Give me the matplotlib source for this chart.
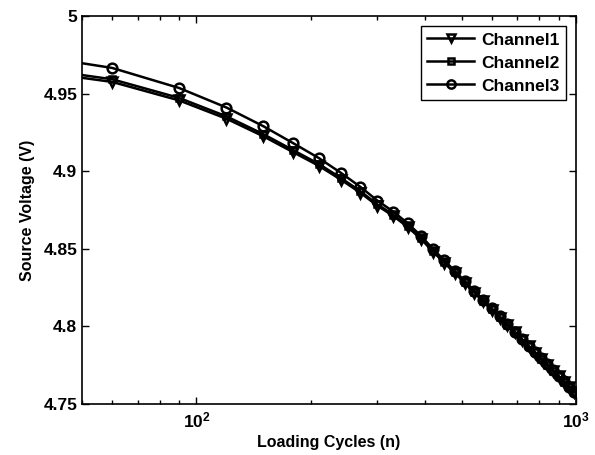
import matplotlib
matplotlib.use("Agg")
import matplotlib.pyplot as plt
from matplotlib.ticker import FixedLocator, LogLocator, NullFormatter

plt.rcParams["font.family"] = ["Liberation Sans", "DejaVu Sans"]
plt.rcParams["font.weight"] = "bold"
plt.rcParams["mathtext.fontset"] = "custom"
plt.rcParams["mathtext.bf"] = "Liberation Sans:bold"
plt.rcParams["mathtext.rm"] = "Liberation Sans:bold"

# loading cycles (n)
cycles = [30, 60, 90, 120, 150, 180, 210, 240, 270, 300, 330, 360, 390, 420,
          450, 480, 510, 540, 570, 600, 630, 660, 690, 720, 750, 780, 810,
          840, 870, 900, 930, 960, 990]

# source voltage
channel1 = [4.9675, 4.9575, 4.9456, 4.9338, 4.9225, 4.9122, 4.9035, 4.8946,
            4.8862, 4.8777, 4.8712, 4.8641, 4.8565, 4.8482, 4.8410, 4.8343,
            4.8279, 4.8218, 4.8161, 4.8107, 4.8056, 4.8007, 4.7961, 4.7915,
            4.7872, 4.7831, 4.7791, 4.7752, 4.7714, 4.7678, 4.7643, 4.7609,
            4.7577]
channel2 = [4.9695, 4.9592, 4.9472, 4.9353, 4.9239, 4.9135, 4.9047, 4.8957,
            4.8872, 4.8786, 4.8720, 4.8648, 4.8571, 4.8488, 4.8415, 4.8348,
            4.8283, 4.8222, 4.8164, 4.8110, 4.8059, 4.8010, 4.7963, 4.7917,
            4.7874, 4.7833, 4.7792, 4.7753, 4.7715, 4.7679, 4.7644, 4.7610,
            4.7578]
channel3 = [4.9780, 4.9665, 4.9536, 4.9410, 4.9290, 4.9180, 4.9085, 4.8990,
            4.8900, 4.8810, 4.8740, 4.8665, 4.8585, 4.8499, 4.8425, 4.8356,
            4.8291, 4.8229, 4.8171, 4.8116, 4.8064, 4.8014, 4.7967, 4.7920,
            4.7876, 4.7835, 4.7794, 4.7755, 4.7717, 4.7681, 4.7646, 4.7611,
            4.7579]

fig = plt.figure(figsize=(5.95, 4.55), dpi=100)
ax = fig.add_axes([0.138, 0.112, 0.83, 0.853])

style = dict(color="black", linewidth=1.8, markeredgewidth=1.8,
             markerfacecolor="none")
ax.plot(cycles, channel1, marker="v", markersize=7.0, label="Channel1", **style)
ax.plot(cycles, channel2, marker="s", markersize=5.0, label="Channel2", **style)
ax.plot(cycles, channel3, marker="o", markersize=7.0, label="Channel3", **style)

ax.set_xscale("log")
ax.set_xlim(50, 1000)
ax.set_ylim(4.75, 5.0)

ax.xaxis.set_major_locator(FixedLocator([100, 1000]))
ax.set_xticklabels([r"$\mathbf{10^{2}}$", r"$\mathbf{10^{3}}$"])
ax.xaxis.set_minor_locator(LogLocator(base=10, subs=range(2, 10)))
ax.xaxis.set_minor_formatter(NullFormatter())
ax.set_yticks([4.75, 4.8, 4.85, 4.9, 4.95, 5.0])
ax.set_yticklabels(["4.75", "4.8", "4.85", "4.9", "4.95", "5"])

ax.tick_params(which="both", direction="in", top=True, right=True,
               labelsize=12.5, width=1.0)
ax.tick_params(which="major", length=5)
ax.tick_params(which="minor", length=3)
ax.tick_params(axis="x", pad=5)
for s in ax.spines.values():
    s.set_linewidth(1.2)

ax.set_xlabel("Loading Cycles (n)", fontsize=11.5, fontweight="bold", labelpad=3)
ax.set_ylabel("Source Voltage (V)", fontsize=11.5, fontweight="bold", labelpad=6)

leg = ax.legend(loc="upper right", fontsize=12.5, handlelength=2.7,
                fancybox=False, edgecolor="black", framealpha=1,
                borderpad=0.35, labelspacing=0.45, handletextpad=0.4,
                borderaxespad=0.6, markerscale=0.85)
leg.get_frame().set_linewidth(1.0)

fig.savefig("out.png", dpi=100)
